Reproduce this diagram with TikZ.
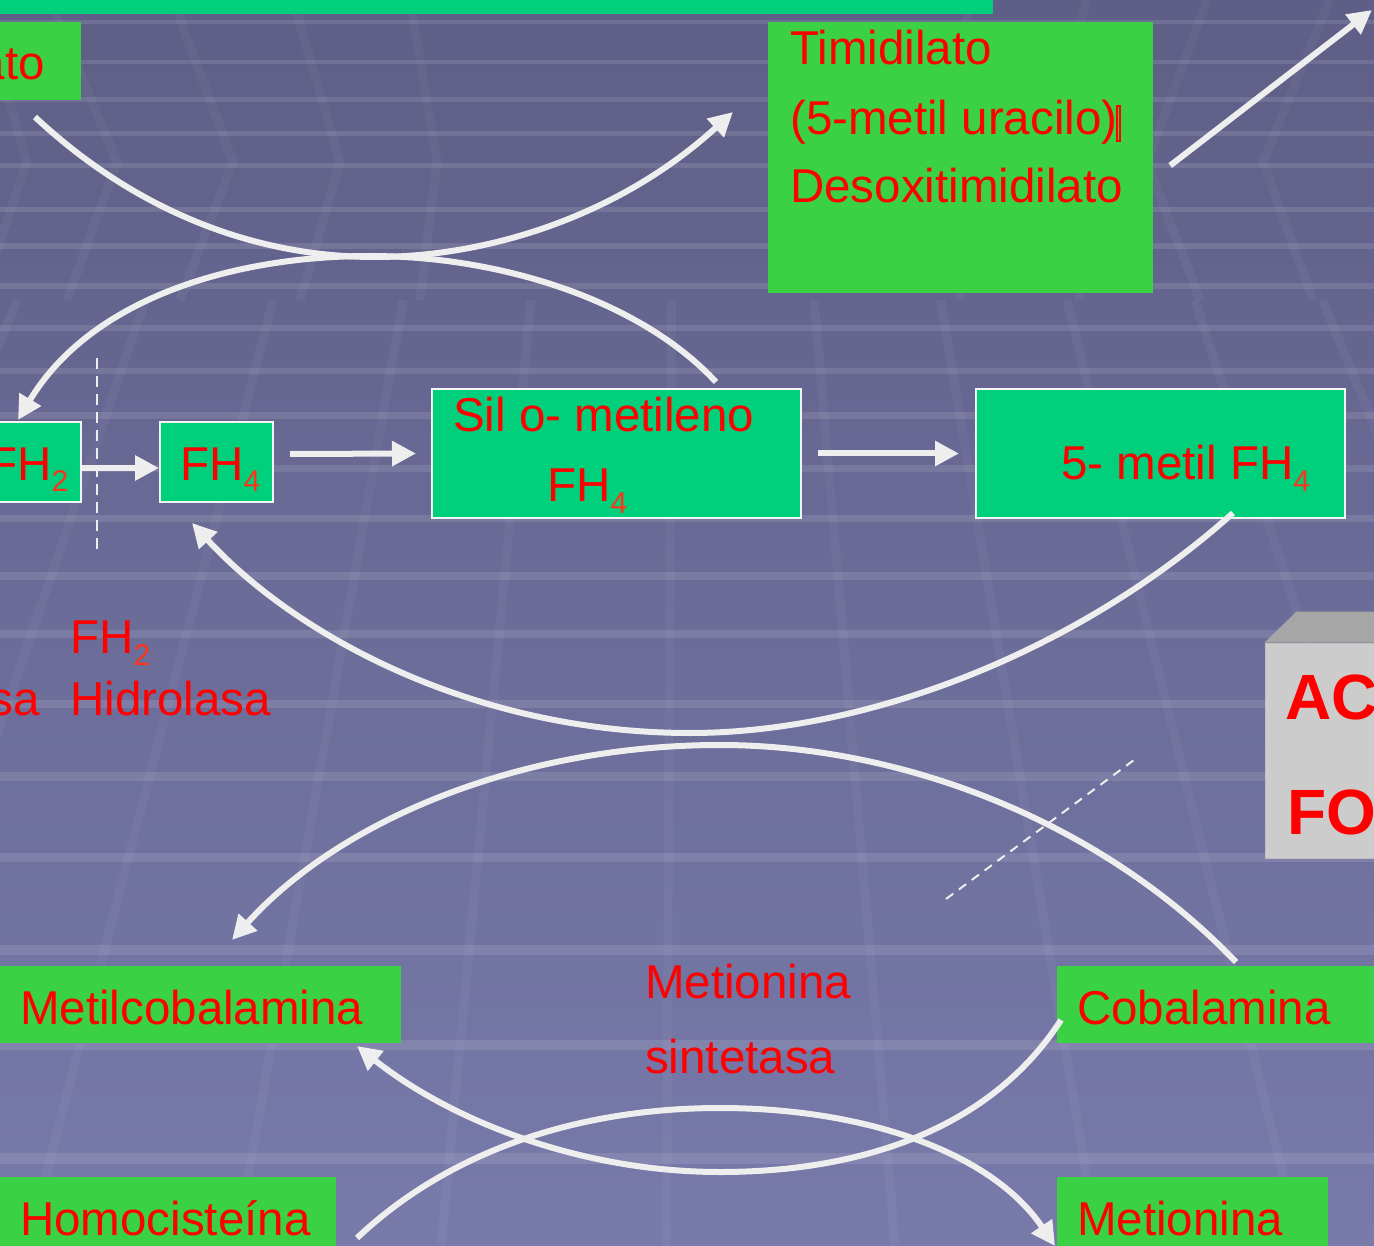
\documentclass[tikz,border=0pt]{standalone}
\usepackage{fontspec}
\setmainfont{Liberation Sans}
\usetikzlibrary{arrows.meta}
\definecolor{bgtop}{HTML}{5E5E86}
\definecolor{bgbot}{HTML}{787AAA}
\definecolor{mint}{HTML}{00CF7B}
\definecolor{lime}{HTML}{3AD244}
\definecolor{wline}{HTML}{EEEEEE}
\definecolor{subred}{HTML}{FF3318}
\definecolor{grayface}{HTML}{CCCCCC}
\definecolor{graytop}{HTML}{A6A6A6}
\newcommand{\fhsub}[1]{FH\raisebox{-12pt}{\fontsize{30}{30}\selectfont\textcolor{subred}{#1}}}
\begin{document}
\begin{tikzpicture}[x=1pt,y=-1pt,
 minttile/.style={rectangle, inner sep=0pt, fill=mint, draw=white!92!gray, line width=2pt},
 bannertile/.style={rectangle, inner sep=0pt, fill=mint},
 limetile/.style={rectangle, inner sep=0pt, fill=lime},
 lbl/.style={inner sep=0pt, text=red, font=\fontsize{47.5}{56}\selectfont},
 boldlbl/.style={inner sep=0pt, text=red, font=\fontsize{64}{70}\selectfont\bfseries},
 flow/.style={draw=wline, line width=6pt, -{Triangle[length=24pt,width=24pt]}},
 dashy/.style={draw=wline, line width=2.5pt, dash pattern=on 11pt off 7pt},
 texture/.style={draw=white, draw opacity=0.04, line width=9pt},
]
\useasboundingbox (0,0) rectangle (1374,1246);
\clip (0,0) rectangle (1374,1246);
% background
\fill[top color=bgtop, bottom color=bgbot] (0,0) rectangle (1374,1246);
\foreach \y/\h in {20/4,60/4,97/5,131/5,163/5,207/5,243/6,283/6,325/6,368/6,412/7,465/7,515/7,572/8,630/8,700/8,772/9,853/9,945/10,1040/10,1153/11}
  \fill[white, opacity=0.11] (0,\y) rectangle (1374,\y+\h);
\foreach \X in {-613,-433,-253,-73,107,290,470,668,869,1047,1225,1405,1585,1765}
  \draw[texture] ({680+(\X-680)*0.71},300) -- ({680+(\X-680)*1.1385},1246);
\foreach \a/\b/\c in {-20/27/-20,50/117/67,173/233/180,293/340/300,410/437/420,1330/1263/1313,1207/1147/1200,1087/1040/1080,970/943/960}
  \draw[texture] (\a,0) -- (\b,162) -- (\c,300);

% boxes
\node[bannertile, minimum width=993pt, minimum height=19pt] (banner) at (496.5,4.5) {};
\node[limetile, minimum width=91pt, minimum height=78pt] (atobox) at (35.5,61) {};
\node[limetile, minimum width=385pt, minimum height=271pt] (timbox) at (960.5,157.5) {};
\node[minttile, minimum width=91pt, minimum height=80pt] (fh2box) at (35.5,462) {};
\node[minttile, minimum width=113pt, minimum height=80pt] (fh4box) at (216.5,462) {};
\node[minttile, minimum width=369pt, minimum height=129pt] (silbox) at (616.5,453.5) {};
\node[minttile, minimum width=369pt, minimum height=129pt] (metbox) at (1160.5,453.5) {};
\node[rectangle, inner sep=0pt, fill=grayface, draw=black!25, line width=1pt, minimum width=125pt, minimum height=215pt] (acbox) at (1327.5,750.5) {};
\fill[graytop] (acbox.north west) -- ++(32,-31) -- ++(100,0) -- (acbox.north east) -- cycle;
\node[limetile, minimum width=411pt, minimum height=77pt] (mcbbox) at (195.5,1004.5) {};
\node[limetile, minimum width=333pt, minimum height=77pt] (cobbox) at (1223.5,1004.5) {};
\node[limetile, minimum width=346pt, minimum height=83pt] (homobox) at (163,1218.5) {};
\node[limetile, minimum width=271pt, minimum height=83pt] (metiobox) at (1192.5,1218.5) {};

% dashed lines
\coordinate (dv1) at (97,358); \coordinate (dv2) at (97,550);
\draw[dashy] (dv1) -- (dv2);
\coordinate (dd1) at (946,899); \coordinate (dd2) at (1138,757);
\draw[dashy, line width=2pt, dash pattern=on 9pt off 7pt] (dd1) -- (dd2);

% straight arrows
\draw[flow] ([yshift=-6pt]fh2box.east) -- ([yshift=-6pt]fh4box.west);
\draw[flow] ([shift={(16pt,8pt)}]fh4box.east) -- ([xshift=-15pt]silbox.west);
\draw[flow] ([xshift=16pt]silbox.east) -- ([xshift=-16pt]metbox.west);
\coordinate (oE) at (1372,10);
\draw[flow] ([shift={(17pt,-8pt)}]timbox.east) -- (oE);

% curved arrows
\coordinate (aS) at (35,117); \coordinate (aE) at (733,112);
\draw[flow] (aS) .. controls (140,215) and (260,257) .. (375,257) .. controls (490,257) and (620,215) .. (aE);
\coordinate (bS) at (716,382); \coordinate (bE) at (18,420);
\draw[flow] (bS) .. controls (640,300) and (500,256) .. (370,256) .. controls (230,256) and (90,300) .. (bE);
\coordinate (cS) at (1233,513); \coordinate (cE) at (192,523);
\draw[flow] (cS) .. controls (1080,650) and (870,733) .. (690,733) .. controls (480,733) and (300,640) .. (cE);
\coordinate (dS) at (1236,962); \coordinate (dE) at (232,940);
\draw[flow] (dS) .. controls (1100,820) and (900,745) .. (720,745) .. controls (520,745) and (340,820) .. (dE);
\coordinate (eS) at (1061,1020); \coordinate (eE) at (357,1046);
\draw[flow] (eS) .. controls (990,1130) and (860,1172) .. (720,1172) .. controls (580,1172) and (450,1120) .. (eE);
\coordinate (fS) at (357,1238); \coordinate (fE) at (1055,1246);
\draw[flow] (fS) .. controls (450,1150) and (580,1108) .. (720,1108) .. controls (860,1108) and (990,1150) .. (fE);

% texts
\node[lbl, anchor=base east] (tato) at (45,80) {ato};
\node[lbl, anchor=base west] (ttim1) at (790,65) {Timidilato};
\node[lbl, anchor=base west] (ttim2) at (790,135) {(5-metil uracilo)};
\draw[red, line width=1.2pt] (1117,106) rectangle (1120,141);
\node[lbl, anchor=base west] (ttim3) at (790,203) {Desoxitimidilato};
\node[lbl, anchor=base west] (tfh2) at (-12,480) {\fhsub{2}};
\node[lbl, anchor=base west] (tfh4) at (180,480) {\fhsub{4}};
\node[lbl, anchor=base west] (tsil1) at (453,432) {Sil o- metileno};
\node[lbl, anchor=base west] (tsil2) at (547,501) {\fhsub{4}};
\node[lbl, anchor=base west] (tmet) at (1061,479) {5- metil \fhsub{4}};
\node[lbl, anchor=base west] (tfh2l) at (70,653) {\fhsub{2}};
\node[lbl, anchor=base west] (thid) at (70,715) {Hidrolasa};
\node[lbl, anchor=base east] (tsa) at (40,715) {sa};
\node[boldlbl, anchor=base west] (tac) at (1285,719) {AC};
\node[boldlbl, anchor=base west] (tfo) at (1287,834) {FO};
\node[lbl, anchor=base west] (tmcb) at (20,1024) {Metilcobalamina};
\node[lbl, anchor=base west] (tms1) at (645,998) {Metionina};
\node[lbl, anchor=base west] (tms2) at (645,1073) {sintetasa};
\node[lbl, anchor=base west] (tcob) at (1077,1024) {Cobalamina};
\node[lbl, anchor=base west] (thom) at (20,1235) {Homocisteína};
\node[lbl, anchor=base west] (tmetio) at (1077,1235) {Metionina};
\end{tikzpicture}
\end{document}
